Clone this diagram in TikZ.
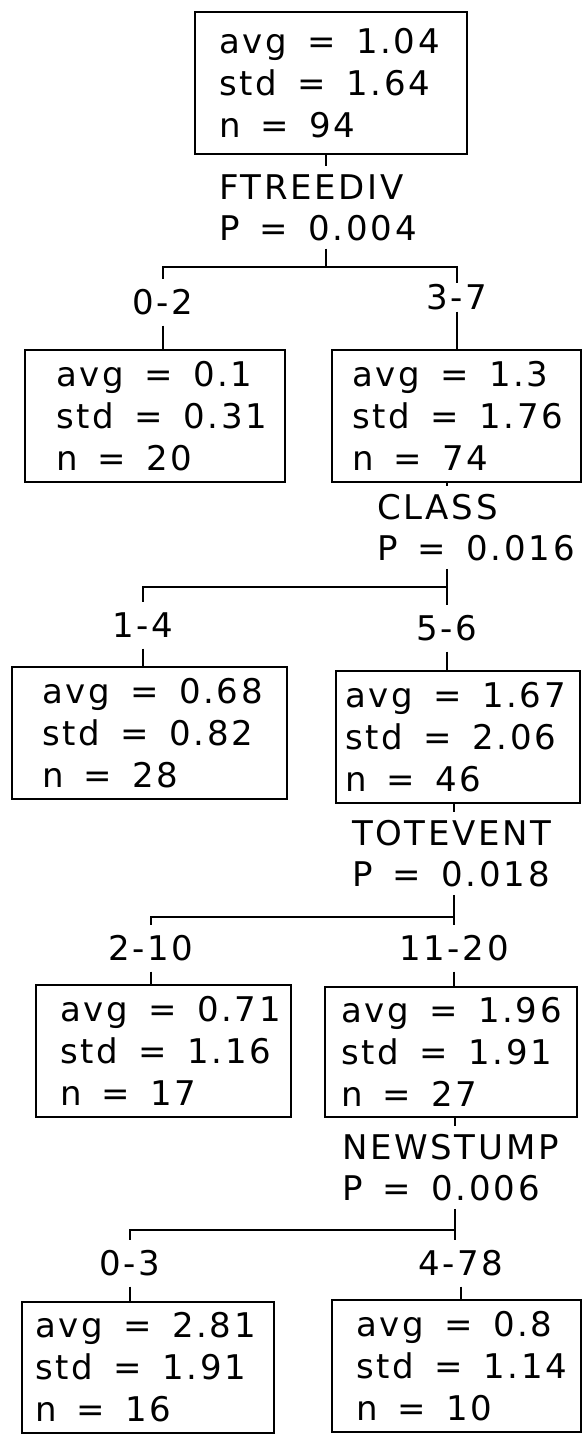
\documentclass[tikz,border=0pt]{standalone}
\usepackage{fontspec}
\setmainfont{DejaVu Sans}[LetterSpace=8,WordSpace={1.5,0,0}]
\usetikzlibrary{positioning}

\begin{document}
\begin{tikzpicture}[
    x=1pt,y=-1pt,
    line width=2pt,
    font=\fontsize{34pt}{42pt}\selectfont,
    statbox/.style={
      rectangle,draw,anchor=north west,outer sep=0pt,inner sep=0pt
    },
    stats/.style={
      anchor=west,inner sep=0pt,align=left
    },
    split/.style={
      anchor=west,inner xsep=0pt,inner ysep=7pt,align=left,
      font=\fontsize{34pt}{41pt}\selectfont
    },
    branch/.style={
      inner xsep=0pt,inner ysep=10pt,text height=25pt,text depth=0pt
    }
  ]
    \useasboundingbox (0,0) rectangle (583,1435);

    % root and first split
    \node[statbox,minimum width=272pt,minimum height=142pt] (root) at (195,12) {};
    \node[stats,right=23pt of root.west] (root-t) {avg = 1.04\\std = 1.64\\n = 94};
    \node[split] (s1) at (218,207.5) {FTREEDIV\\P = 0.004};
    \coordinate (j1) at (326,267);
    \node[branch] (e1) at (163,302) {0-2};
    \node[branch,inner ysep=1pt] (e2) at (457,297) {3-7};
    \node[statbox,minimum width=260pt,minimum height=132pt] (l1) at (25,350) {};
    \node[stats,right=30pt of l1.west] (l1-t) {avg = 0.1\\std = 0.31\\n = 20};
    \node[statbox,minimum width=249pt,minimum height=132pt] (r1) at (332,350) {};
    \node[stats,right=19pt of r1.west] (r1-t) {avg = 1.3\\std = 1.76\\n = 74};

    \draw (root.south -| j1) -- (s1.north -| j1);
    \draw (s1.south -| j1) -- (j1);
    \draw (e1.north) |- (j1) -| (e2.north);
    \draw (e1.south) -- (l1.north -| e1.south);
    \draw (e2.south) -- (r1.north -| e2.south);

    % CLASS
    \node[split] (s2) at (376,527.5) {CLASS\\P = 0.016};
    \coordinate (j2) at (447,587);
    \node[branch] (e3) at (143,625) {1-4};
    \node[branch] (e4) at (447,628) {5-6};
    \node[statbox,minimum width=275pt,minimum height=132pt] (l2) at (12,667) {};
    \node[stats,right=29pt of l2.west] (l2-t) {avg = 0.68\\std = 0.82\\n = 28};
    \node[statbox,minimum width=244pt,minimum height=132pt] (r2) at (336,671) {};
    \node[stats,right=8pt of r2.west] (r2-t) {avg = 1.67\\std = 2.06\\n = 46};

    \draw (r1.south -| j2) -- (s2.north -| j2);
    \draw (s2.south -| j2) -- (e4.north);
    \draw (e3.north) |- (j2);
    \draw (e3.south) -- (l2.north -| e3.south);
    \draw (e4.south) -- (r2.north -| e4.south);

    % TOTEVENT
    \node[split] (s3) at (351,853.5) {TOTEVENT\\P = 0.018};
    \coordinate (j3) at (454,917);
    \node[branch] (e5) at (151,948) {2-10};
    \node[branch] (e6) at (454,948) {11-20};
    \node[statbox,minimum width=255pt,minimum height=132pt] (l3) at (36,985) {};
    \node[stats,right=23pt of l3.west] (l3-t) {avg = 0.71\\std = 1.16\\n = 17};
    \node[statbox,minimum width=252pt,minimum height=130pt] (r3) at (325,987) {};
    \node[stats,right=15pt of r3.west] (r3-t) {avg = 1.96\\std = 1.91\\n = 27};

    \draw (r2.south -| j3) -- (s3.north -| j3);
    \draw (s3.south -| j3) -- (e6.north);
    \draw (e5.north) |- (j3);
    \draw (e5.south) -- (l3.north -| e5.south);
    \draw (e6.south) -- (r3.north -| e6.south);

    % NEWSTUMP
    \node[split] (s4) at (341,1167.5) {NEWSTUMP\\P = 0.006};
    \coordinate (j4) at (455,1230);
    \node[branch] (e7) at (130,1263) {0-3};
    \node[branch] (e8) at (461,1263) {4-78};
    \node[statbox,minimum width=252pt,minimum height=131pt] (l4) at (22,1302) {};
    \node[stats,right=12pt of l4.west] (l4-t) {avg = 2.81\\std = 1.91\\n = 16};
    \node[statbox,minimum width=249pt,minimum height=132pt] (r4) at (332,1300) {};
    \node[stats,right=23pt of r4.west] (r4-t) {avg = 0.8\\std = 1.14\\n = 10};

    \draw (r3.south -| j4) -- (s4.north -| j4);
    \draw (s4.south -| j4) -- (e8.north -| j4);
    \draw (e7.north) |- (j4);
    \draw (e7.south) -- (l4.north -| e7.south);
    \draw (e8.south) -- (r4.north -| e8.south);
  \end{tikzpicture}
\end{document}
